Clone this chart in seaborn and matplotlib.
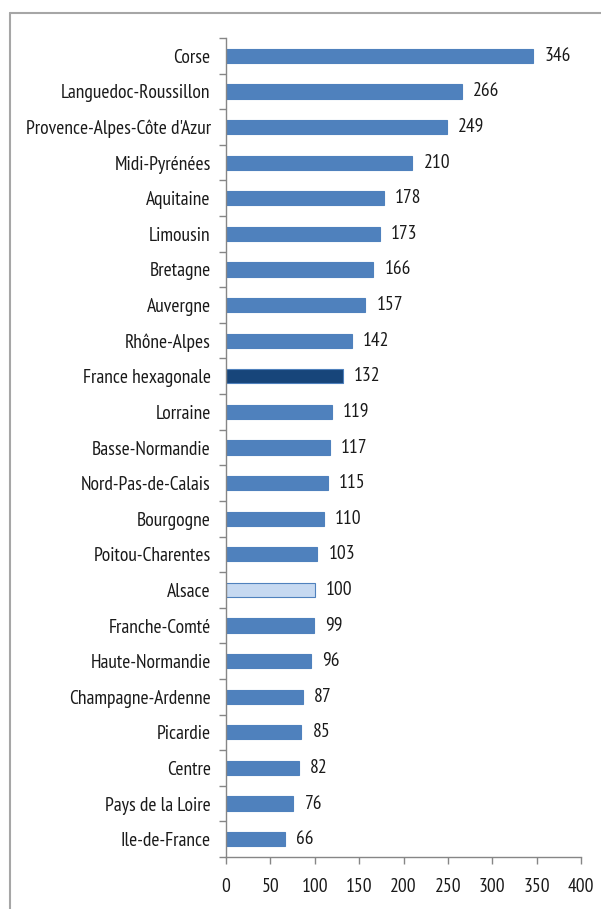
import matplotlib
matplotlib.use("Agg")
import matplotlib.pyplot as plt
from matplotlib.lines import Line2D
from matplotlib.transforms import offset_copy
import seaborn as sns
import pandas as pd

regions = [
    "Corse", "Languedoc-Roussillon", "Provence-Alpes-Côte d'Azur", "Midi-Pyrénées",
    "Aquitaine", "Limousin", "Bretagne", "Auvergne", "Rhône-Alpes",
    "France hexagonale", "Lorraine", "Basse-Normandie", "Nord-Pas-de-Calais",
    "Bourgogne", "Poitou-Charentes", "Alsace", "Franche-Comté", "Haute-Normandie",
    "Champagne-Ardenne", "Picardie", "Centre", "Pays de la Loire", "Ile-de-France",
]
values = [346, 266, 249, 210, 178, 173, 166, 157, 142, 132, 119, 117, 115,
          110, 103, 100, 99, 96, 87, 85, 82, 76, 66]
x_ticks = [0, 50, 100, 150, 200, 250, 300, 350, 400]

base_color = "#4F81BD"
national_color = "#17457A"
alsace_color = "#C6D9F1"
axis_gray = "#868686"
text_color = "#1A1A1A"
font_size = 14

sns.set_style("white")
plt.rcParams["font.family"] = ["PT Sans Narrow", "DejaVu Sans"]

df = pd.DataFrame({"region": regions, "value": values})
palette = {r: base_color for r in regions}
palette["France hexagonale"] = national_color
palette["Alsace"] = alsace_color

fig = plt.figure(figsize=(6.01, 9.09), dpi=100)
ax = fig.add_axes([226 / 601, 52 / 909, 355 / 601, 819 / 909])

sns.barplot(data=df, x="value", y="region", hue="region", palette=palette,
            order=regions, orient="h", width=0.4, legend=False, ax=ax,
            saturation=1, edgecolor=base_color, linewidth=0.8)

for container in ax.containers:
    labels = ax.bar_label(container, fmt="%d", padding=8, fontsize=font_size,
                          color=text_color)
    for lab in labels:
        lab.set_transform(offset_copy(lab.get_transform(), fig=fig, x=0, y=-2,
                                      units="dots"))

ax.set_xlim(0, 400)
ax.set_ylim(len(regions) - 0.5, -0.5)
ax.set_xticks(x_ticks)
ax.set_xticklabels([str(t) for t in x_ticks], fontsize=font_size)
ax.set_yticks(range(len(regions)))
ax.set_yticklabels(regions, fontsize=font_size)
ax.set_yticks([i - 0.5 for i in range(len(regions) + 1)], minor=True)
ax.tick_params(axis="y", which="major", left=True, length=0, pad=11, labelcolor=text_color)
ax.tick_params(axis="y", which="minor", left=True, length=5, width=1,
               color=axis_gray, direction="out")
ax.tick_params(axis="x", which="major", bottom=True, length=5, width=1, color=axis_gray,
               direction="out", pad=10, labelcolor=text_color)
ax.set_xlabel("")
ax.set_ylabel("")

for side in ["top", "right"]:
    ax.spines[side].set_visible(False)
for side in ["left", "bottom"]:
    ax.spines[side].set_color(axis_gray)
    ax.spines[side].set_linewidth(1)

# chart-area frame
fx0 = 9.5 / 601
fy1 = 1 - 12.5 / 909
fig.add_artist(Line2D([fx0, fx0], [0, fy1], transform=fig.transFigure,
                      color="#A6A6A6", linewidth=1.5))
fig.add_artist(Line2D([fx0, 1], [fy1, fy1], transform=fig.transFigure,
                      color="#A6A6A6", linewidth=1.5))

fig.savefig("out.png", dpi=100)
